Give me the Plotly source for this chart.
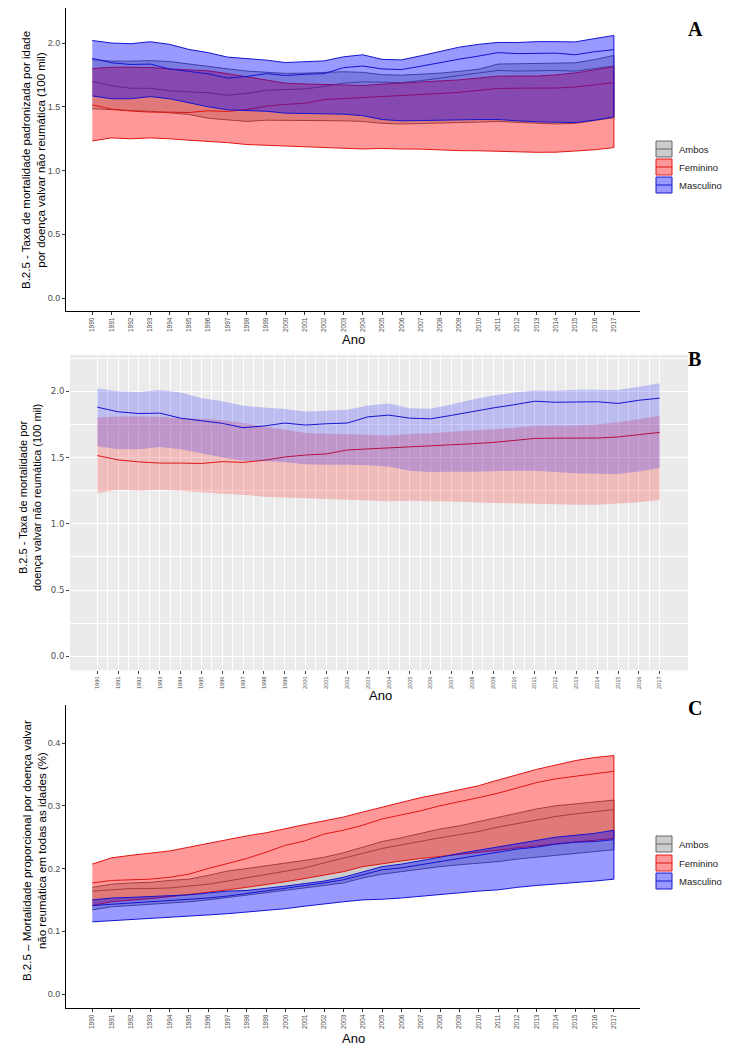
import plotly.graph_objects as go

anos = list(range(1990, 2018))

# Paineis A e B - taxa padronizada por idade (100 mil)
masc_sup = [2.02, 2.00, 1.995, 2.01, 1.99, 1.95, 1.925, 1.89, 1.878, 1.866, 1.847, 1.853, 1.86, 1.892,
            1.908, 1.872, 1.868, 1.90, 1.937, 1.968, 1.99, 2.005, 2.004, 2.011, 2.011, 2.009, 2.035, 2.06]
masc_med = [1.88, 1.845, 1.832, 1.835, 1.797, 1.777, 1.758, 1.725, 1.738, 1.76, 1.745, 1.755, 1.76, 1.807,
            1.82, 1.797, 1.792, 1.818, 1.848, 1.874, 1.898, 1.925, 1.917, 1.92, 1.921, 1.908, 1.932, 1.948]
masc_inf = [1.585, 1.563, 1.563, 1.58, 1.563, 1.533, 1.50, 1.476, 1.473, 1.465, 1.45, 1.446, 1.445, 1.442,
            1.43, 1.40, 1.39, 1.392, 1.393, 1.396, 1.40, 1.40, 1.39, 1.382, 1.377, 1.376, 1.395, 1.42]
fem_sup = [1.80, 1.81, 1.81, 1.808, 1.797, 1.792, 1.782, 1.76, 1.735, 1.71, 1.685, 1.679, 1.676, 1.672,
           1.667, 1.677, 1.684, 1.694, 1.703, 1.711, 1.725, 1.74, 1.741, 1.741, 1.75, 1.766, 1.789, 1.815]
fem_med = [1.515, 1.482, 1.467, 1.458, 1.458, 1.455, 1.469, 1.463, 1.479, 1.504, 1.519, 1.527, 1.557, 1.565,
           1.57, 1.578, 1.584, 1.594, 1.604, 1.614, 1.629, 1.644, 1.646, 1.647, 1.647, 1.655, 1.674, 1.69]
fem_inf = [1.232, 1.256, 1.249, 1.256, 1.249, 1.238, 1.226, 1.219, 1.204, 1.199, 1.193, 1.186, 1.181, 1.175,
           1.169, 1.173, 1.169, 1.168, 1.163, 1.156, 1.155, 1.151, 1.148, 1.143, 1.144, 1.153, 1.163, 1.18]
amb_sup = [1.87, 1.858, 1.858, 1.862, 1.855, 1.838, 1.818, 1.798, 1.78, 1.77, 1.762, 1.764, 1.77, 1.775,
           1.77, 1.752, 1.748, 1.754, 1.764, 1.778, 1.795, 1.835, 1.838, 1.842, 1.843, 1.845, 1.87, 1.903]
amb_med = [1.70, 1.665, 1.645, 1.645, 1.625, 1.615, 1.61, 1.59, 1.605, 1.63, 1.635, 1.64, 1.66, 1.685,
           1.695, 1.69, 1.69, 1.705, 1.725, 1.74, 1.76, 1.785, 1.78, 1.785, 1.785, 1.78, 1.80, 1.82]
amb_inf = [1.485, 1.48, 1.47, 1.465, 1.455, 1.44, 1.41, 1.395, 1.385, 1.395, 1.39, 1.39, 1.39, 1.39,
           1.385, 1.37, 1.365, 1.37, 1.375, 1.375, 1.38, 1.385, 1.38, 1.37, 1.365, 1.37, 1.39, 1.415]

# Painel C - mortalidade proporcional (%)
c_fem_sup = [0.207, 0.217, 0.221, 0.224, 0.228, 0.234, 0.240, 0.247, 0.252, 0.257, 0.264, 0.270, 0.276, 0.282,
             0.290, 0.298, 0.306, 0.313, 0.319, 0.325, 0.332, 0.341, 0.350, 0.358, 0.365, 0.372, 0.377, 0.380]
c_fem_med = [0.177, 0.181, 0.182, 0.183, 0.186, 0.191, 0.200, 0.208, 0.216, 0.226, 0.237, 0.244, 0.255, 0.261,
             0.269, 0.279, 0.285, 0.292, 0.300, 0.306, 0.313, 0.320, 0.329, 0.337, 0.343, 0.347, 0.351, 0.355]
c_fem_inf = [0.141, 0.147, 0.150, 0.152, 0.155, 0.158, 0.162, 0.166, 0.170, 0.174, 0.179, 0.184, 0.189, 0.195,
             0.203, 0.208, 0.212, 0.216, 0.220, 0.223, 0.226, 0.229, 0.233, 0.236, 0.240, 0.243, 0.245, 0.248]
c_amb_sup = [0.170, 0.175, 0.177, 0.178, 0.181, 0.183, 0.189, 0.196, 0.200, 0.204, 0.208, 0.213, 0.218, 0.225,
             0.234, 0.243, 0.249, 0.256, 0.263, 0.268, 0.275, 0.282, 0.289, 0.295, 0.300, 0.303, 0.306, 0.309]
c_amb_med = [0.164, 0.166, 0.168, 0.168, 0.169, 0.172, 0.175, 0.180, 0.185, 0.190, 0.196, 0.201, 0.209, 0.216,
             0.224, 0.232, 0.238, 0.243, 0.249, 0.254, 0.259, 0.266, 0.272, 0.278, 0.283, 0.287, 0.290, 0.294]
c_amb_inf = [0.134, 0.139, 0.141, 0.143, 0.145, 0.147, 0.150, 0.153, 0.157, 0.161, 0.165, 0.169, 0.173, 0.177,
             0.185, 0.191, 0.195, 0.199, 0.203, 0.206, 0.209, 0.211, 0.215, 0.218, 0.222, 0.225, 0.227, 0.230]
c_masc_sup = [0.150, 0.153, 0.154, 0.155, 0.157, 0.158, 0.161, 0.164, 0.165, 0.168, 0.172, 0.176, 0.180, 0.186,
              0.195, 0.203, 0.207, 0.212, 0.218, 0.224, 0.229, 0.234, 0.240, 0.245, 0.250, 0.253, 0.256, 0.261]
c_masc_med = [0.141, 0.143, 0.145, 0.146, 0.148, 0.150, 0.153, 0.156, 0.160, 0.165, 0.169, 0.173, 0.177, 0.182,
              0.190, 0.198, 0.201, 0.206, 0.211, 0.216, 0.220, 0.225, 0.231, 0.234, 0.239, 0.242, 0.243, 0.246]
c_masc_inf = [0.115, 0.117, 0.119, 0.121, 0.122, 0.124, 0.126, 0.128, 0.131, 0.133, 0.136, 0.140, 0.144, 0.147,
              0.150, 0.151, 0.153, 0.156, 0.158, 0.161, 0.164, 0.166, 0.170, 0.173, 0.175, 0.178, 0.180, 0.183]

grupos = ["Ambos", "Feminino", "Masculino"]
cor_linha = {"Ambos": "rgb(105,105,105)", "Feminino": "rgb(225,20,20)", "Masculino": "rgb(20,20,210)"}
cor_fill = {"Ambos": "rgba(128,128,128,0.4)", "Feminino": "rgba(255,0,0,0.4)", "Masculino": "rgba(0,0,255,0.4)"}

W, H = 750, 1050
FONT = "Liberation Sans, Arial, sans-serif"


def px(x):
    return x / W


def py(y):
    return 1 - y / H


fig = go.Figure()


def faixa(sup, inf, med, grupo, xa, ya, contorno=True, alpha_fill=None):
    fill = alpha_fill if alpha_fill else cor_fill[grupo]
    fig.add_trace(go.Scatter(
        x=anos + anos[::-1], y=sup + inf[::-1], fill="toself", fillcolor=fill,
        mode="lines" if contorno else "none",
        line=dict(color=cor_linha[grupo], width=1),
        hoverinfo="skip", showlegend=False, xaxis=xa, yaxis=ya))
    fig.add_trace(go.Scatter(
        x=anos, y=med, mode="lines", line=dict(color=cor_linha[grupo], width=1),
        showlegend=False, name=grupo, xaxis=xa, yaxis=ya))


# A
faixa(amb_sup, amb_inf, amb_med, "Ambos", "x", "y")
faixa(fem_sup, fem_inf, fem_med, "Feminino", "x", "y")
faixa(masc_sup, masc_inf, masc_med, "Masculino", "x", "y")
# B
faixa(fem_sup, fem_inf, fem_med, "Feminino", "x2", "y2", contorno=False, alpha_fill="rgba(255,0,0,0.2)")
faixa(masc_sup, masc_inf, masc_med, "Masculino", "x2", "y2", contorno=False, alpha_fill="rgba(0,0,255,0.2)")
# C
faixa(c_amb_sup, c_amb_inf, c_amb_med, "Ambos", "x3", "y3")
faixa(c_fem_sup, c_fem_inf, c_fem_med, "Feminino", "x3", "y3")
faixa(c_masc_sup, c_masc_inf, c_masc_med, "Masculino", "x3", "y3")

eixo_x = dict(tickvals=anos, ticktext=[str(a) for a in anos], tickangle=-90, ticks="outside", ticklen=3,
              tickcolor="#333333", showgrid=False, zeroline=False, showline=True, linecolor="black",
              linewidth=1, tickfont=dict(family=FONT, size=6.5, color="#4D4D4D"))
eixo_y = dict(ticks="outside", ticklen=3, tickcolor="#333333", showgrid=False, zeroline=False,
              showline=True, linecolor="black", linewidth=1,
              tickfont=dict(family=FONT, size=9, color="#4D4D4D"))

fig.update_layout(
    width=W, height=H, margin=dict(l=0, r=0, t=0, b=0), autosize=False,
    paper_bgcolor="white", plot_bgcolor="white", showlegend=False,
    xaxis=dict(eixo_x, domain=[px(58), px(632)], range=[1988.64, 2018.35], anchor="y"),
    yaxis=dict(eixo_y, domain=[py(303), py(0)], range=[-0.102, 2.275], anchor="x",
               tickvals=[0, 0.5, 1, 1.5, 2], ticktext=["0.0", "0.5", "1.0", "1.5", "2.0"]),
    xaxis2=dict(domain=[px(62), px(680)], range=[1988.69, 2018.36], anchor="y2",
                tickvals=anos, ticktext=[str(a) for a in anos], tickangle=-90, ticks="outside", ticklen=3,
                tickcolor="#444444", showline=False, zeroline=False,
                showgrid=True, gridcolor="white", gridwidth=1.3,
                minor=dict(showgrid=True, gridcolor="white", gridwidth=0.6,
                           tickvals=[a + 0.5 for a in anos[:-1]]),
                tickfont=dict(family="Liberation Sans Narrow, DejaVu Sans Condensed, sans-serif",
                              size=5.5, color="#4D4D4D")),
    yaxis2=dict(domain=[py(662.3), py(346.7)], range=[-0.106, 2.276], anchor="x2",
                tickvals=[0, 0.5, 1, 1.5, 2], ticktext=["0.0", "0.5", "1.0", "1.5", "2.0"],
                ticks="outside", ticklen=3, tickcolor="#444444", showline=False, zeroline=False,
                showgrid=True, gridcolor="white", gridwidth=1.3,
                minor=dict(showgrid=True, gridcolor="white", gridwidth=0.6,
                           tickvals=[0.25, 0.75, 1.25, 1.75, 2.25]),
                tickfont=dict(family="DejaVu Sans, sans-serif", size=8.5, color="#4D4D4D")),
    xaxis3=dict(eixo_x, domain=[px(58), px(632)], range=[1988.64, 2018.35], anchor="y3"),
    yaxis3=dict(eixo_y, domain=[py(1000), py(697)], range=[-0.0223, 0.4606], anchor="x3",
                tickvals=[0, 0.1, 0.2, 0.3, 0.4], ticktext=["0.0", "0.1", "0.2", "0.3", "0.4"]),
)

# fundo cinza do painel B
fig.add_shape(type="rect", xref="x2 domain", yref="y2 domain", x0=0, x1=1, y0=0, y1=1,
              fillcolor="#EBEBEB", line=dict(width=0), layer="below")

anots = []
# titulos do eixo y
anots.append(dict(x=px(25), y=py(152), text="B.2.5 - Taxa de mortalidade padronizada por idade<br>"
                  "por doença valvar não reumática (100 mil)", textangle=-90, font=dict(size=11.5)))
anots.append(dict(x=px(22), y=py(490), text="B.2.5 - Taxa de mortalidade por<br>"
                  "doença valvar não reumática (100 mil)", textangle=-90, font=dict(size=11)))
anots.append(dict(x=px(26), y=py(843), text="B.2.5 – Mortalidade proporcional por doença valvar<br>"
                  "não reumática em todas as idades (%)", textangle=-90, font=dict(size=11.5)))
# titulos do eixo x
for xc, yc in [(345, 331), (372, 687), (345, 1030)]:
    anots.append(dict(x=px(xc), y=py(yc), text="Ano", font=dict(size=13)))
# letras dos paineis
for letra, xc, yc in [("A", 687, 21), ("B", 686, 351), ("C", 687, 700)]:
    anots.append(dict(x=px(xc), y=py(yc), text="<b>%s</b>" % letra,
                      font=dict(family="Liberation Serif, Times New Roman, serif", size=20, color="black")))

# legendas manuais (A e C)
for y_centros in [(141, 159, 177), (836, 855, 873)]:
    for g, yc in zip(grupos, y_centros):
        fig.add_shape(type="rect", xref="paper", yref="paper", x0=px(648), x1=px(664),
                      y0=py(yc + 8), y1=py(yc - 8), fillcolor=cor_fill[g],
                      line=dict(color=cor_linha[g], width=1))
        fig.add_shape(type="line", xref="paper", yref="paper", x0=px(648), x1=px(664),
                      y0=py(yc), y1=py(yc), line=dict(color=cor_linha[g], width=1))
        anots.append(dict(x=px(669), y=py(yc), text=g, xanchor="left", font=dict(size=9.5, color="#222")))

for a in anots:
    a.setdefault("xanchor", "center")
    a["xref"] = "paper"
    a["yref"] = "paper"
    a["showarrow"] = False
    a["yanchor"] = "middle"
    f = a.get("font", {})
    f.setdefault("family", FONT)
    f.setdefault("color", "black")
    a["font"] = f
    fig.add_annotation(a)

# linha cinza no rodape
fig.add_shape(type="line", xref="paper", yref="paper", x0=0, x1=1, y0=py(1049), y1=py(1049),
              line=dict(color="#9A9A9A", width=1.5))

fig.write_html("out.html")
